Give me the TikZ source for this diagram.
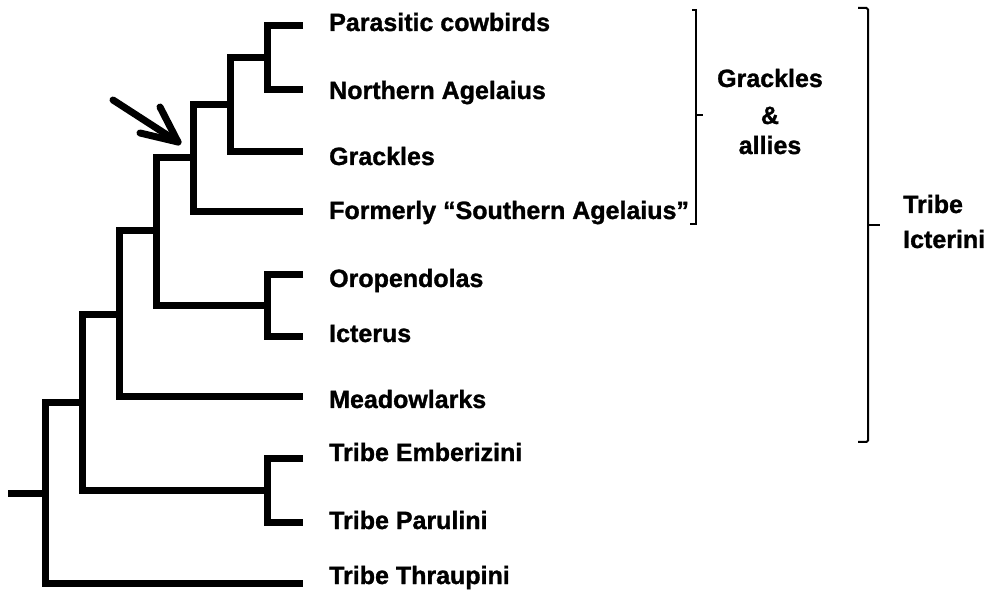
\documentclass[tikz,border=0pt]{standalone}
\usepackage{fontspec}
\setmainfont{Liberation Sans}[BoldFeatures={FakeBold=1.2}]
\begin{document}
\begin{tikzpicture}[x=1pt,y=-1pt,
  branch/.style={line width=7pt, line cap=butt, line join=miter},
  lbl/.style={anchor=base west, inner sep=0pt, font=\fontsize{25}{30}\selectfont\bfseries},
  grp/.style={anchor=base, inner sep=0pt, font=\fontsize{25}{30}\selectfont\bfseries},
  brkthin/.style={line width=1.3pt},
  brkthick/.style={line width=2pt, rounded corners=1.5pt},
  arr/.style={line width=7pt, line cap=round, line join=round}]
\useasboundingbox (0,0) rectangle (991,593);
% leaves (right ends of branches)
\coordinate (lPC) at (303,26);
\coordinate (lNA) at (303,90);
\coordinate (lGr) at (303,152);
\coordinate (lFS) at (303,212);
\coordinate (lOr) at (303,275);
\coordinate (lIc) at (303,337);
\coordinate (lMe) at (303,397);
\coordinate (lEm) at (303,459);
\coordinate (lPa) at (303,522);
\coordinate (lTh) at (303,583);
% internal nodes
\coordinate (n1) at (267,58);
\coordinate (n2) at (230,105);
\coordinate (n3) at (193,158);
\coordinate (n4) at (267,306);
\coordinate (n5) at (156,231);
\coordinate (n6) at (119,315);
\coordinate (n7) at (267,490);
\coordinate (n8) at (82,403);
\coordinate (n9) at (45,493);
\coordinate (root) at (8,493);
% tree
\draw[branch] (lPC) -| (n1) |- (lNA);
\draw[branch] (n1) -| (n2) |- (lGr);
\draw[branch] (n2) -| (n3) |- (lFS);
\draw[branch] (lOr) -| (n4) |- (lIc);
\draw[branch] (n3) -| (n5) |- (n4);
\draw[branch] (n5) -| (n6) |- (lMe);
\draw[branch] (lEm) -| (n7) |- (lPa);
\draw[branch] (n6) -| (n8) |- (n7);
\draw[branch] (n8) -| (n9) |- (lTh);
\draw[branch] (root) -- (n9);
% labels
\node[lbl] (tPC) at (329,31) {Parasitic cowbirds};
\node[lbl] (tNA) at (329,99) {Northern Agelaius};
\node[lbl] (tGr) at (329,165) {Grackles};
\node[lbl] (tFS) at (329,219) {Formerly “Southern Agelaius”};
\node[lbl] (tOr) at (329,287) {Oropendolas};
\node[lbl] (tIc) at (329,342) {Icterus};
\node[lbl] (tMe) at (329,408) {Meadowlarks};
\node[lbl] (tEm) at (329,461) {Tribe Emberizini};
\node[lbl] (tPa) at (329,529) {Tribe Parulini};
\node[lbl] (tTh) at (329,584) {Tribe Thraupini};
% arrow
\coordinate (atail) at (113,100);
\coordinate (atip) at (178,142);
\coordinate (ab1) at (160,107);
\coordinate (ab2) at (140,133);
\draw[arr] (atail) -- (atip);
\draw[arr] (ab1) -- (atip) -- (ab2);
% grackles bracket
\coordinate (g1) at (692,10);
\coordinate (g2) at (696,10);
\coordinate (g3) at (696,224);
\coordinate (g4) at (690,224);
\coordinate (gm) at (696,115);
\coordinate (gt) at (703,115);
\draw[brkthin] (g1) -- (g2) -- (g3) -- (g4);
\draw[brkthin] (gm) -- (gt);
\node[grp] (gA) at (770,87) {Grackles};
\node[grp] (gB) at (770,124) {\&};
\node[grp] (gC) at (770,154) {allies};
% tribe bracket
\coordinate (i1) at (858,8);
\coordinate (i2) at (868,8);
\coordinate (i3) at (868,442);
\coordinate (i4) at (858,442);
\coordinate (im) at (868,225);
\coordinate (it) at (880,225);
\draw[brkthick] (i1) -- (i2) -- (i3) -- (i4);
\draw[brkthin, line width=2pt] (im) -- (it);
\node[lbl] (iA) at (903,213) {Tribe};
\node[lbl] (iB) at (903,248) {Icterini};
\end{tikzpicture}
\end{document}
